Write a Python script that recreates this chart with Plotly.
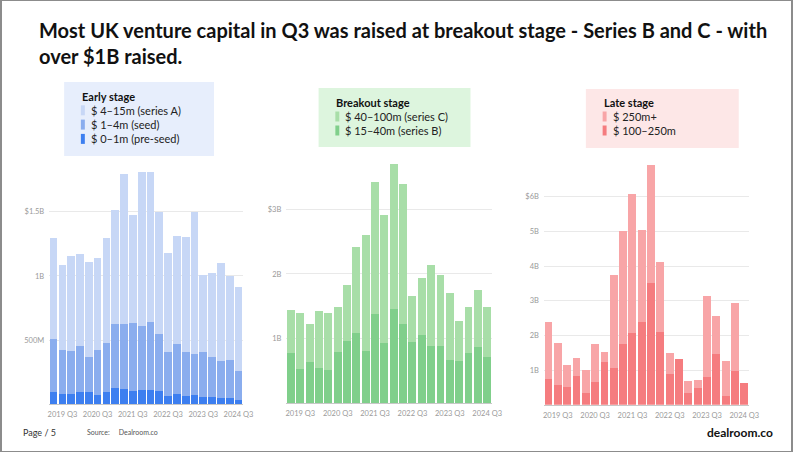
import plotly.graph_objects as go

quarters = ["2019 Q2", "2019 Q3", "2019 Q4", "2020 Q1", "2020 Q2", "2020 Q3", "2020 Q4",
            "2021 Q1", "2021 Q2", "2021 Q3", "2021 Q4", "2022 Q1", "2022 Q2", "2022 Q3",
            "2022 Q4", "2023 Q1", "2023 Q2", "2023 Q3", "2023 Q4", "2024 Q1", "2024 Q2", "2024 Q3"]
tick_quarters = ["2019 Q3", "2020 Q3", "2021 Q3", "2022 Q3", "2023 Q3", "2024 Q3"]

# Early stage ($M)
pre_seed = [98, 83, 83, 98, 98, 75, 98, 130, 117, 106, 111, 111, 106, 65, 80, 65, 70, 60, 57, 52, 52, 34]
seed = [410, 339, 332, 358, 272, 347, 379, 494, 507, 524, 498, 531, 438, 344, 389, 342, 321, 347, 313, 282, 290, 228]
series_a = [790, 661, 740, 712, 736, 715, 821, 892, 1171, 844, 1197, 1164, 956, 770, 844, 899, 1106, 601, 653, 767, 655, 655]

# Breakout stage ($M)
series_b = [773, 531, 634, 552, 510, 799, 969, 1088, 814, 1381, 938, 1464, 1232, 954, 1052, 892, 881, 670, 660, 778, 871, 711]
series_c = [670, 861, 593, 871, 882, 691, 856, 1335, 1789, 2047, 1974, 2237, 2160, 706, 886, 1252, 1098, 1041, 608, 712, 876, 779]

# Late stage ($M)
late_100_250 = [750, 567, 510, 837, 346, 654, 1231, 1058, 1760, 2067, 2375, 3519, 2096, 894, 1317, 346, 471, 808, 1452, 240, 971, 625]
late_250_plus = [1625, 1221, 644, 509, 664, 1106, 298, 2673, 3250, 4010, 2663, 3394, 2029, 606, 0, 327, 250, 2336, 1115, 1010, 1962, 0]

early_ticks = [500, 1000, 1500]
early_ticktext = ["500M", "1B", "$1.5B"]
breakout_ticks = [1000, 2000, 3000]
breakout_ticktext = ["1B", "2B", "$3B"]
late_ticks = [1000, 2000, 3000, 4000, 5000, 6000]
late_ticktext = ["1B", "2B", "3B", "4B", "5B", "$6B"]

C_PRE, C_SEED, C_A = "#3d7ff0", "#8aadee", "#c7d7f6"
C_B, C_C = "#80cf8b", "#a8dea8"
C_L1, C_L2 = "#f57c7f", "#f8a5a7"

FONT = "Lato"
W, H = 802, 452

fig = go.Figure()

def add_bar(y, color, xa, ya, width):
    fig.add_trace(go.Bar(x=quarters, y=y, marker=dict(color=color, line=dict(width=0)),
                         xaxis=xa, yaxis=ya, width=width, showlegend=False,
                         hoverinfo="x+y"))

add_bar(pre_seed, C_PRE, "x", "y", 0.88)
add_bar(seed, C_SEED, "x", "y", 0.88)
add_bar(series_a, C_A, "x", "y", 0.88)
add_bar(series_b, C_B, "x2", "y2", 0.85)
add_bar(series_c, C_C, "x2", "y2", 0.85)
add_bar(late_100_250, C_L1, "x3", "y3", 0.85)
add_bar(late_250_plus, C_L2, "x3", "y3", 0.85)

def px_dom(a, b, total):
    return [a / total, b / total]

tickfont = dict(family=FONT, size=7.5, color="#9a9a9a")

def xaxis(dom, anchor):
    return dict(domain=dom, anchor=anchor, type="category", categoryorder="array",
                categoryarray=quarters, tickmode="array", tickvals=tick_quarters,
                ticktext=tick_quarters, tickfont=tickfont, showgrid=False,
                showline=True, linecolor="#c8c8c8", linewidth=1, ticks="",
                zeroline=False, fixedrange=True, ticklabelstandoff=3)

def yaxis(dom, anchor, rng, tv, tt):
    return dict(domain=dom, anchor=anchor, range=rng, tickmode="array", tickvals=tv,
                ticktext=tt, tickfont=tickfont, showgrid=True, gridcolor="#e9e9e9",
                gridwidth=1, zeroline=False, showline=False, ticks="",
                ticklabelstandoff=4, fixedrange=True)

fig.update_layout(
    width=W, height=H,
    margin=dict(l=0, r=0, t=0, b=0),
    paper_bgcolor="white", plot_bgcolor="white",
    barmode="stack",
    font=dict(family=FONT),
    xaxis=xaxis(px_dom(48.9, 245.2, W), "y"),
    yaxis=yaxis([(H - 404.3) / H, (H - 166.8) / H], "x", [0, 1850], early_ticks, early_ticktext),
    xaxis2=xaxis(px_dom(289.3, 497.7, W), "y2"),
    yaxis2=yaxis([(H - 403.3) / H, (H - 157.6) / H], "x2", [0, 3800], breakout_ticks, breakout_ticktext),
    xaxis3=xaxis(px_dom(550.4, 758.4, W), "y3"),
    yaxis3=yaxis([(H - 404.7) / H, (H - 162.0) / H], "x3", [0, 7000], late_ticks, late_ticktext),
)

shapes = []
annotations = []

def X(p):
    return p / W

def Y(p):
    return 1 - p / H

# Page border
shapes.append(dict(type="rect", xref="paper", yref="paper", x0=0, x1=1, y0=0, y1=1,
                   line=dict(color="#8c8c8c", width=2), fillcolor="rgba(0,0,0,0)", layer="above"))

# Title
annotations.append(dict(xref="paper", yref="paper", x=X(37), y=Y(16), xanchor="left", yanchor="top",
                        align="left", showarrow=False,
                        text="<b>Most UK venture capital in Q3 was raised at breakout stage - Series B and C - with<br>over $1B raised.</b>",
                        font=dict(family=FONT, size=20, color="#111111")))

def legend_box(x0, x1, y0, y1, bg, title, items, tx, ty, dy):
    shapes.append(dict(type="rect", xref="paper", yref="paper", x0=X(x0), x1=X(x1), y0=Y(y1), y1=Y(y0),
                       line=dict(width=0), fillcolor=bg, layer="below"))
    annotations.append(dict(xref="paper", yref="paper", x=X(tx), y=Y(ty), xanchor="left", yanchor="middle",
                            showarrow=False, text="<b>" + title + "</b>",
                            font=dict(family=FONT, size=11, color="#111111")))
    for i, (label, color) in enumerate(items):
        yy = ty + dy * (i + 1)
        shapes.append(dict(type="rect", xref="paper", yref="paper", x0=X(tx + 1), x1=X(tx + 5),
                           y0=Y(yy + 5), y1=Y(yy - 5), line=dict(width=0), fillcolor=color))
        annotations.append(dict(xref="paper", yref="paper", x=X(tx + 9), y=Y(yy), xanchor="left",
                                yanchor="middle", showarrow=False, text=label,
                                font=dict(family=FONT, size=11, color="#222222")))

legend_box(64, 216, 82, 156, "#e7eefc", "Early stage",
           [("$ 4–15m (series A)", C_A), ("$ 1–4m (seed)", C_SEED), ("$ 0–1m (pre-seed)", C_PRE)],
           80, 96, 14.3)
legend_box(322, 476, 88, 147, "#ddf5de", "Breakout stage",
           [("$ 40–100m (series C)", C_C), ("$ 15–40m (series B)", C_B)],
           338, 102.5, 14)
legend_box(593, 748, 89, 148, "#fde7e7", "Late stage",
           [("$ 250m+", C_L2), ("$ 100–250m", C_L1)],
           609, 102.5, 14)

# Footer
annotations.append(dict(xref="paper", yref="paper", x=X(20), y=Y(432), xanchor="left", yanchor="middle",
                        showarrow=False, text="Page / 5", font=dict(family=FONT, size=9, color="#333333")))
annotations.append(dict(xref="paper", yref="paper", x=X(85), y=Y(432), xanchor="left", yanchor="middle",
                        showarrow=False, text="Source:&nbsp;&nbsp;&nbsp;&nbsp;&nbsp;Dealroom.co",
                        font=dict(family=FONT, size=7, color="#555555")))
annotations.append(dict(xref="paper", yref="paper", x=X(785), y=Y(432), xanchor="right", yanchor="middle",
                        showarrow=False, text="<b>dealroom.co</b>",
                        font=dict(family=FONT, size=12, color="#111111")))

fig.update_layout(shapes=shapes, annotations=annotations)

fig.write_html("out.html", config=dict(displayModeBar=False),
               post_script="document.body.style.margin='0';document.body.style.overflow='hidden';")
